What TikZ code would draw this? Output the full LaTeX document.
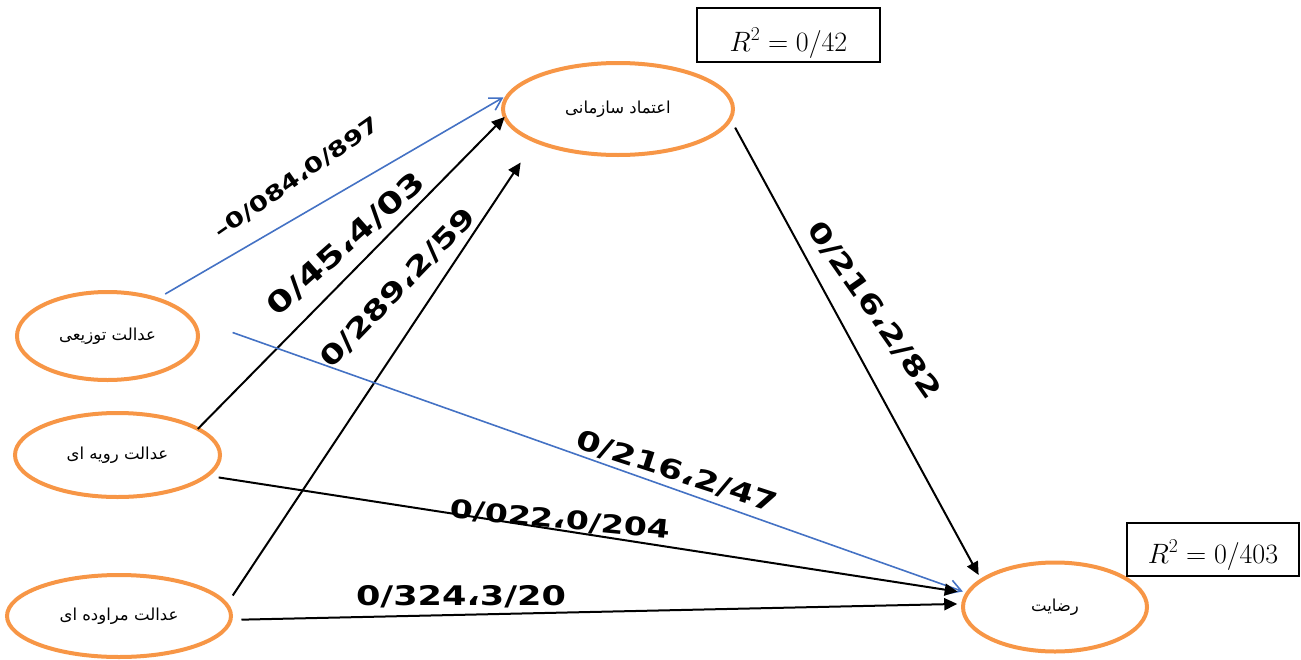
\RequirePackage{fix-cm}
\documentclass[tikz,border=0pt]{standalone}
\usepackage{fontspec}
\usetikzlibrary{shapes.geometric,arrows.meta}
\TeXXeTstate=1
\newfontfamily\fafont[Script=Arabic]{DejaVu Sans}
\newfontfamily\numfont[FakeStretch=1.3]{DejaVu Sans}
\definecolor{orng}{RGB}{247,150,70}
\definecolor{blu}{RGB}{68,114,196}
\tikzset{
  ell/.style={ellipse, draw=orng, line width=4pt, inner sep=0pt, outer sep=0pt,
    font=\fafont\fontsize{16.5}{18}\selectfont},
  arr/.style={draw=black, line width=2pt, -{Triangle[length=13pt,width=12pt]}},
  barr/.style={draw=blu, line width=1.6pt, -{Straight Barb[length=12pt,width=14pt]}},
  lab/.style={inner sep=0pt, font=\numfont\bfseries\fontsize{27}{30}\selectfont},
  labbig/.style={inner sep=0pt, font=\numfont\bfseries\fontsize{29}{32}\selectfont},
  labmid/.style={inner sep=0pt, font=\numfont\bfseries\fontsize{25.5}{28}\selectfont},
  labsm/.style={inner sep=0pt, font=\numfont\bfseries\fontsize{21}{24}\selectfont},
  rbox/.style={draw=black, line width=2pt, inner sep=0pt, text depth=0pt, font=\fontsize{28}{30}\selectfont}
}
\begin{document}
\begin{tikzpicture}[x=1pt,y=-1pt]
\useasboundingbox (0,0) rectangle (1301,659);
% nodes
\node[ell, minimum width=230pt, minimum height=92pt] (trust) at (618,109) {\beginR اعتماد سازمانی\endR};
\node[ell, minimum width=181pt, minimum height=88pt] (dist) at (107.5,336) {\beginR عدالت توزیعی\endR};
\node[ell, minimum width=205pt, minimum height=84pt] (proc) at (117.5,455) {\beginR عدالت رویه ای\endR};
\node[ell, minimum width=224pt, minimum height=82pt] (inter) at (119,616) {\beginR عدالت مراوده ای\endR};
\node[ell, minimum width=184pt, minimum height=89pt] (sat) at (1055,607) {\beginR رضایت\endR};
% R^2 boxes
\node[rbox, text height=32pt, minimum width=183pt, minimum height=54pt] (r1) at (788.5,35) {$R^2=0/42$};
\node[rbox, text height=27pt, minimum width=172pt, minimum height=53pt] (r2) at (1213,549.5) {$R^2=0/403$};
% connectors
\draw[barr, shorten <=10pt, shorten >=7pt] (dist.37.1) -- (trust.172.5);
\draw[arr] (proc.18.7) -- (trust.184.6);
\draw[arr, shorten <=11pt, shorten >=26pt] (inter.6.7) -- (trust.201.7);
\draw[arr, shorten <=10pt, shorten >=6pt] (trust.-5.2) -- (sat.160.3);
\draw[barr, shorten <=46pt, shorten >=5pt] (dist.13.4) -- (sat.171.5);
\draw[arr, shorten <=12pt, shorten >=10pt] (proc.-13.4) -- (sat.171.3);
\draw[arr, shorten <=11pt, shorten >=6pt] (inter.-2.7) -- (sat.178.7);
% labels
\node[labsm, rotate=35] (l1) at (297,178) {–0/084،0/897};
\node[labbig, rotate=41.5] (l2) at (346,244) {0/45،4/03};
\node[lab, rotate=46] (l3) at (398,288) {0/289،2/59};
\node[lab, rotate=-55] (l4) at (874,310) {0/216،2/82};
\node[lab, rotate=-18] (l5) at (677,472) {0/216،2/47};
\node[labmid, rotate=-5.5] (l6) at (560,520) {0/022،0/204};
\node[lab, rotate=0] (l7) at (461,597) {0/324،3/20};
\end{tikzpicture}
\end{document}
